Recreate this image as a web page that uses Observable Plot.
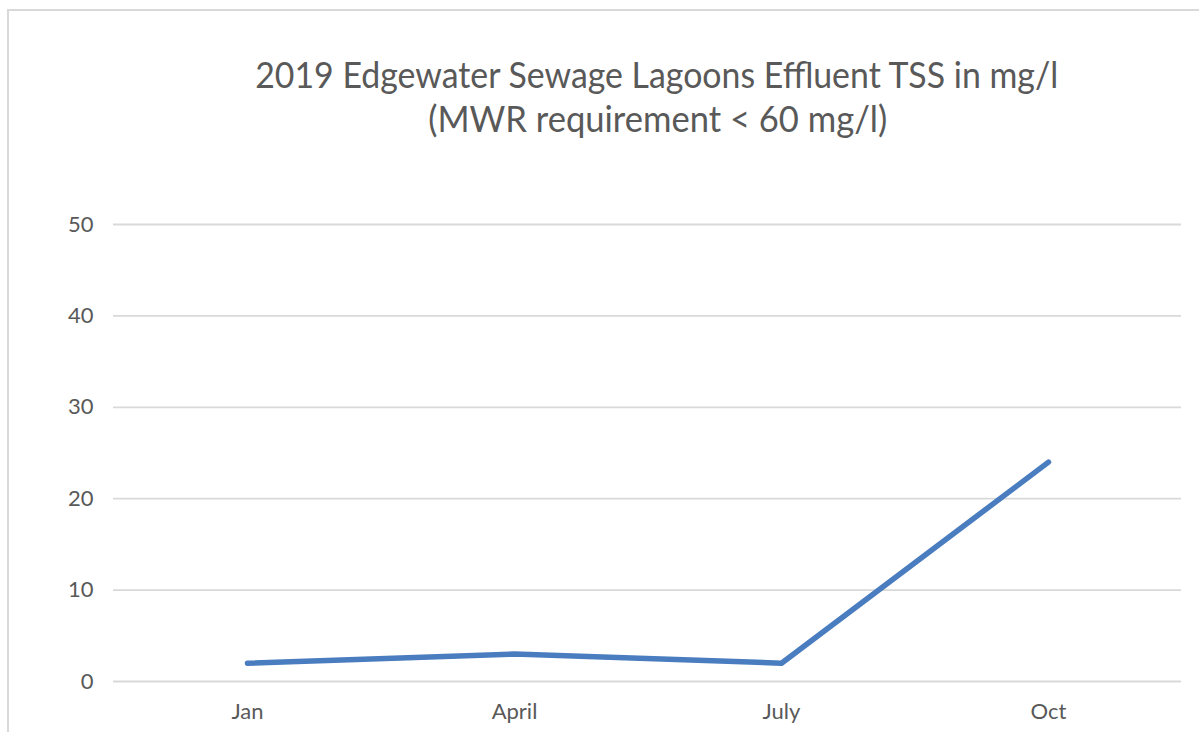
<!DOCTYPE html>
<html>
<head>
<meta charset="utf-8">
<script src="https://cdn.jsdelivr.net/npm/d3@7"></script>
<script src="https://cdn.jsdelivr.net/npm/@observablehq/plot@0.6"></script>
<style>
  html, body { margin: 0; padding: 0; background: #fff; overflow: hidden; }
  #frame { position: absolute; left: 7px; top: 9px; width: 1300px; height: 800px;
           border: 2px solid #d9d9d9; box-sizing: border-box; }
  #title { position: absolute; left: 0; top: 0; width: 1199px; height: 150px;
           font-family: Lato, sans-serif; color: #595959; }
  .tl { position: absolute; white-space: nowrap; font-size: 37px; line-height: 1;
        transform-origin: center center; }
  #chart { position: absolute; left: 0; top: 150px; }
</style>
</head>
<body>
<div id="frame"></div>
<div id="title">
  <div class="tl" id="t1">2019 Edgewater Sewage Lagoons Effluent TSS in mg/l</div>
  <div class="tl" id="t2">(MWR requirement &lt; 60 mg/l)</div>
</div>
<div id="chart"></div>
<script>
const months = ["Jan", "April", "July", "Oct"];
const tss = [2, 3, 2, 24];
const yTicks = [0, 10, 20, 30, 40, 50];

const data = months.map((m, i) => ({month: m, value: tss[i]}));

// fit title lines
function place(el, cx, capTop, targetW) {
  const w = el.getBoundingClientRect().width;
  const s = targetW / w;
  el.style.left = (cx - w / 2) + "px";
  // Lato ascent ~ top offset; position so cap top matches
  el.style.top = (capTop - 37 * 0.2) + "px";
  el.style.transform = `scaleX(${s})`;
}
place(document.getElementById("t1"), 657, 62, 803);
place(document.getElementById("t2"), 657.5, 106, 459);

const plot = Plot.plot({
  width: 1199,
  height: 582,
  marginLeft: 113,
  marginRight: 18,
  marginTop: 74,
  marginBottom: 51,
  style: {fontFamily: "Lato, sans-serif", fontSize: "22px", color: "#595959", background: "transparent"},
  x: {type: "point", domain: months, padding: 0.5, label: null},
  y: {domain: [0, 50], label: null},
  marks: [
    Plot.gridY(yTicks, {stroke: "#d9d9d9", strokeOpacity: 1, strokeWidth: 1.8}),
    Plot.axisY(yTicks, {tickSize: 0, tickPadding: 20, label: null, fill: "#595959"}),
    Plot.axisX({tickSize: 0, tickPadding: 22, label: null, fill: "#595959"}),
    Plot.line(data, {x: "month", y: "value", stroke: "#4a7dbf", strokeWidth: 5.5,
                     strokeLinecap: "round", strokeLinejoin: "round"})
  ]
});
document.getElementById("chart").appendChild(plot);
</script>
</body>
</html>
